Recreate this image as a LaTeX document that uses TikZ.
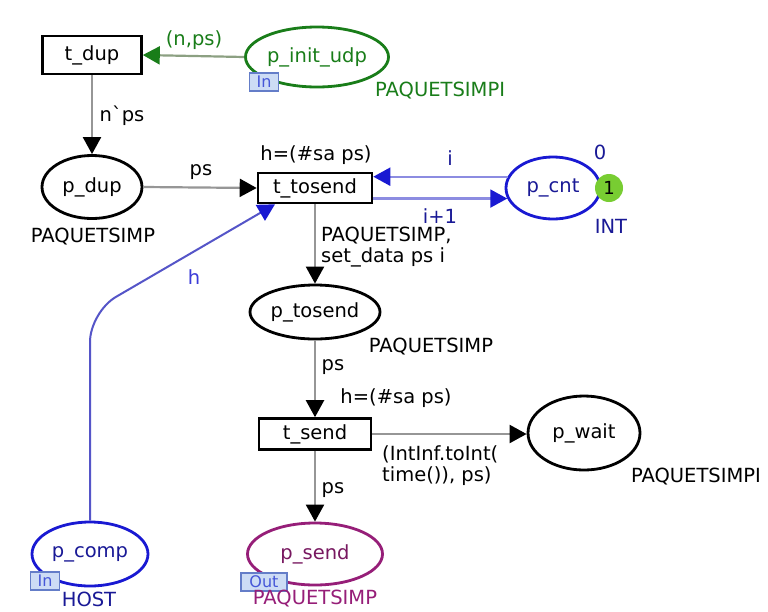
\documentclass[tikz,border=0pt]{standalone}
\usepackage{fontspec}
\setmainfont{DejaVu Sans}
\usetikzlibrary{shapes.geometric,arrows.meta}
\definecolor{cgreen}{RGB}{25,125,25}
\definecolor{cgreenline}{RGB}{140,160,130}
\definecolor{cblue}{RGB}{25,25,210}
\definecolor{cbluetext}{RGB}{25,25,150}
\definecolor{cblueline}{RGB}{140,140,225}
\definecolor{charc}{RGB}{85,85,200}
\definecolor{cgray}{RGB}{150,150,150}
\definecolor{cpurple}{RGB}{150,30,120}
\definecolor{ctok}{RGB}{120,205,50}
\definecolor{portfill}{RGB}{205,220,245}
\definecolor{portdraw}{RGB}{100,125,200}
\tikzset{
  x=1pt,y=-1pt,
  every node/.style={font=\fontsize{19.5}{21}\selectfont, inner sep=0pt},
  trans/.style={draw=black, line width=2.6pt, rectangle, fill=white},
  place/.style={draw, ellipse, line width=2.8pt, fill=white},
  arc/.style={draw=cgray, line width=2.2pt, -{Triangle[length=17pt,width=18pt,fill=black,color=black]}},
  bluearc/.style={draw=cblueline, line width=2.2pt, -{Triangle[length=17pt,width=18pt,color=cblue]}},
  greenarc/.style={draw=cgreenline, line width=2.2pt, -{Triangle[length=17pt,width=18pt,color=cgreen]}},
  harc/.style={draw=charc, line width=2pt, -{Triangle[length=17pt,width=18pt,color=cblue]}},
  port/.style={draw=portdraw, fill=portfill, line width=1.2pt, text=portdraw!70!blue, font=\fontsize{16}{16}\selectfont, minimum height=18pt},
}
\begin{document}
\begin{tikzpicture}
\useasboundingbox (0,0) rectangle (768,611);
\fill[white] (0,0) rectangle (768,611);

% transitions
\node[trans, minimum width=99pt, minimum height=38pt] (tdup) at (92,55) {t\_dup};
\node[trans, minimum width=114pt, minimum height=30pt] (ttosend) at (315,188) {t\_tosend};
\node[trans, minimum width=112pt, minimum height=31pt] (tsend) at (315,434) {t\_send};

% places
\node[place, draw=cgreen, text=cgreen, minimum width=143pt, minimum height=60pt] (pinit) at (317,57) {p\_init\_udp};
\node[place, minimum width=100pt, minimum height=63pt] (pdup) at (92,187) {p\_dup};
\node[place, draw=cblue, text=cbluetext, minimum width=94pt, minimum height=62pt] (pcnt) at (553,188) {p\_cnt};
\node[place, minimum width=130pt, minimum height=54pt] (ptosend) at (315,312) {p\_tosend};
\node[place, minimum width=112pt, minimum height=74pt] (pwait) at (584,433) {p\_wait};
\node[place, draw=cpurple, text=cpurple!80!black, minimum width=135pt, minimum height=62pt] (psend) at (315,554) {p\_send};
\node[place, draw=cblue, text=cbluetext, minimum width=116pt, minimum height=64pt] (pcomp) at (90,554) {p\_comp};

% token
\node[circle, fill=ctok, minimum size=28pt, font=\fontsize{18}{18}\selectfont] (tok) at (609,188) {1};

% ports
\node[port, minimum width=29pt] (portinit) at (264,82) {In};
\node[port, minimum width=29pt] (portcomp) at (45,581) {In};
\node[port, minimum width=46pt] (portsend) at (264,582) {Out};

% arcs
\draw[greenarc] (pinit.west) -- (tdup.east);
\draw[arc] (tdup.south) -- (pdup.north);
\draw[arc] (pdup.east) -- (ttosend.west);
\draw[bluearc] (pcnt.166) -- (pcnt.166 -| ttosend.east);
\draw[bluearc] (pcnt.193 -| ttosend.east) -- (pcnt.193);
\draw[arc] (ttosend.south) -- (ptosend.north);
\draw[arc] (ptosend.south) -- (tsend.north);
\draw[arc] (tsend.east) -- (tsend.east -| pwait.west);
\draw[arc] (tsend.south) -- (psend.north);
\coordinate (hend) at ([xshift=-40pt]ttosend.south);
\draw[harc, rounded corners=30pt] (pcomp.north) -- (pcomp.north |- 0,312) -- (hend);

% labels
\node[text=cgreen] (lnps) at (194,40) {(n,ps)};
\node[text=cgreen, anchor=west] (lpinit) at (375,91) {PAQUETSIMPI};
\node (lnbps) at (122,116) {n\textasciigrave{}ps};
\node (lps1) at (201,172) {ps};
\node (lguard1) at (316,155) {h=(\#sa ps)};
\node[text=cbluetext] (li) at (450,158) {i};
\node[text=cbluetext] (li1) at (440,216) {i+1};
\node[text=cbluetext] (l0) at (600,152) {0};
\node[text=cbluetext] (lint) at (611,226) {INT};
\node (lpdup) at (93,237) {PAQUETSIMP};
\node[anchor=west, align=left] (lset) at (321,247) {PAQUETSIMP,\\set\_data ps i};
\node[text=charc!70!blue] (lh) at (194,277) {h};
\node (lptosend) at (431,347) {PAQUETSIMP};
\node (lps2) at (333,367) {ps};
\node (lguard2) at (396,398) {h=(\#sa ps)};
\node[anchor=west, align=left] (ltime) at (382,466) {(IntInf.toInt(\\time()), ps)};
\node (lpwait) at (696,477) {PAQUETSIMPI};
\node (lps3) at (333,490) {ps};
\node[text=cbluetext] (lhost) at (89,599) {HOST};
\node[text=cpurple] (lpsend) at (315,599) {PAQUETSIMP};
\end{tikzpicture}
\end{document}
